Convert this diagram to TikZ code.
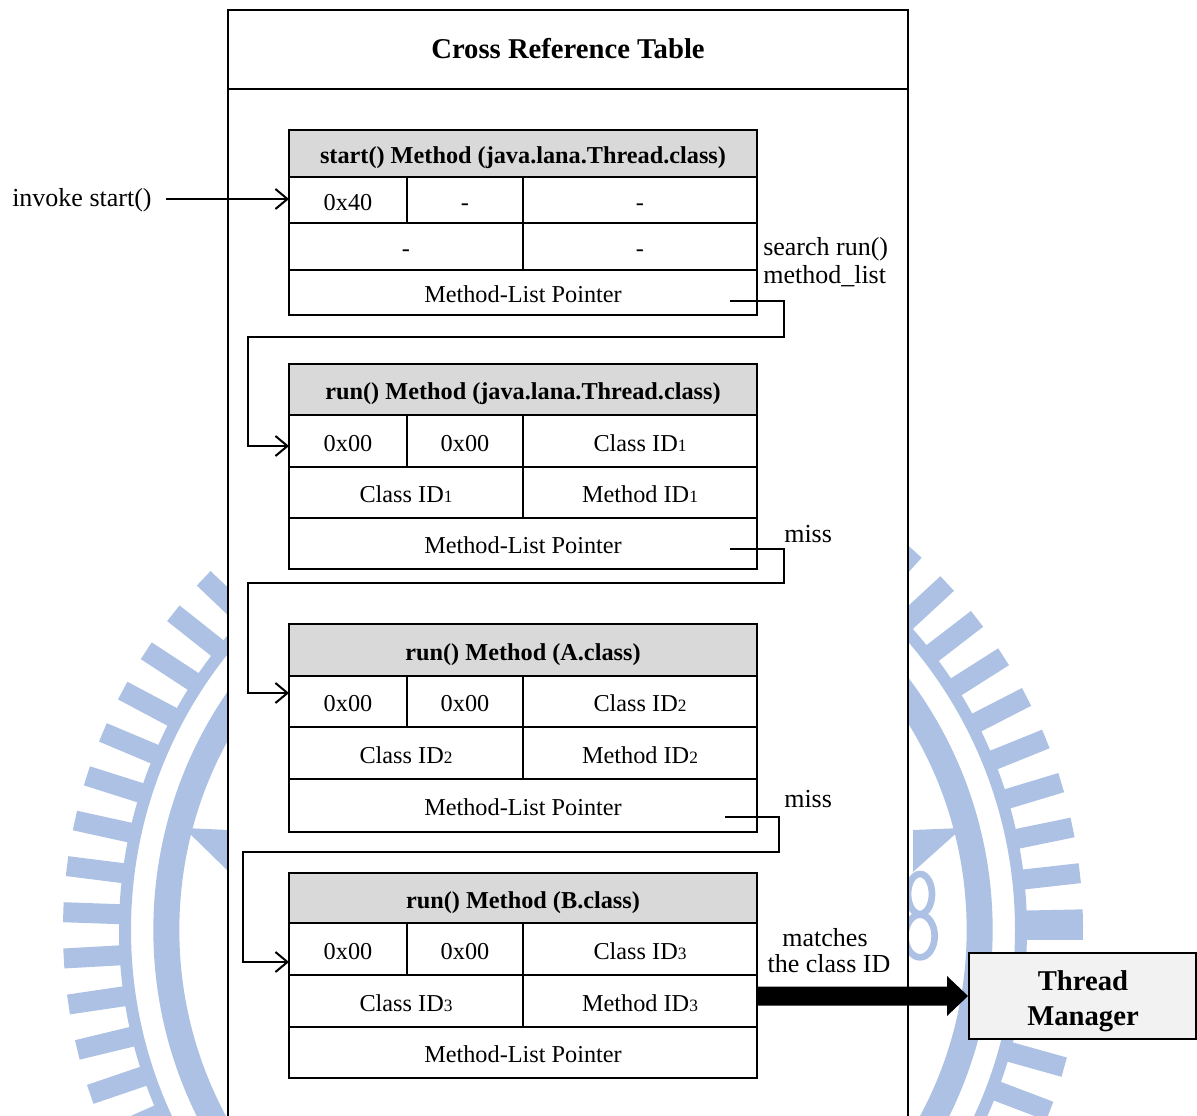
\documentclass[tikz,border=0pt]{standalone}
\usepackage{fontspec}
\setmainfont{Liberation Serif}
\usetikzlibrary{arrows.meta,calc}

\definecolor{hdgray}{RGB}{217,217,217}
\definecolor{tmgray}{RGB}{242,242,242}
\definecolor{logoblue}{RGB}{172,193,228}

\newcommand\tabfont{\fontsize{18.2}{21}\selectfont}
\newcommand\lblfont{\fontsize{19.5}{23}\selectfont}
\newcommand\bigfont{\fontsize{21.5}{26.25}\selectfont}
\newcommand\idx[1]{{\fontsize{13}{13}\selectfont #1}}

\begin{document}
\begin{tikzpicture}[x=0.75pt,y=-0.75pt,
  grid/.style={line width=1.5pt,line join=miter},
  tx/.style={inner sep=0pt,text height=12pt,text depth=0pt,font=\tabfont},
  hd/.style={inner sep=0pt,text height=12pt,text depth=0pt,font=\tabfont\bfseries},
  lbl/.style={inner sep=0pt,font=\lblfont},
  conn/.style={line width=1.5pt,-{Straight Barb[length=9pt,width=15pt]}},
  tmbox/.style={draw,line width=1.5pt,fill=tmgray,inner sep=0pt,
    minimum width=170.25pt,minimum height=64.5pt},
  logo/.style={logoblue}
]
\useasboundingbox (0,0) rectangle (1197,1115);

% ---- faint emblem in the background ----
\coordinate (lc) at (573,930);
\draw[logo,line width=19.5pt] (lc) circle[radius=305pt];
\draw[logo,line width=9pt] (lc) circle[radius=336pt];
\foreach \a in {0,5.2,...,360}
  \draw[logo,line width=15pt] ($(lc)+(\a:445)$) -- ($(lc)+(\a:510)$);
\fill[logo] (913,830) -- (962,828) -- (913,872) -- cycle;
\fill[logo] (229,830) -- (184,828) -- (229,872) -- cycle;
\draw[logo,line width=5pt] (920,894) ellipse[x radius=9pt,y radius=15pt];
\draw[logo,line width=5pt] (920,936) ellipse[x radius=11pt,y radius=16pt];

% ---- outer cross reference table frame ----
\draw[grid,fill=white] (228,1125) -- (228,10) -- (908,10) -- (908,1125);
\draw[grid] (228,89) -- (908,89);
\node[inner sep=0pt,text height=14.2pt,text depth=0pt,font=\bigfont\bfseries] (xrt) at (568,49) {Cross Reference Table};

% ---- start() method entry ----
\fill[hdgray] (289,130) rectangle (757,177);
\draw[grid] (289,130) rectangle (757,315);
\draw[grid] (289,177) -- (757,177) (289,223) -- (757,223) (289,270) -- (757,270)
  (407,177) -- (407,223) (523,177) -- (523,270);
\node[hd] (t1h) at (523,155.5) {start() Method (java.lana.Thread.class)};
\node[tx] (t1a) at (348,202) {0x40};
\node[tx] (t1b) at (465,202) {-};
\node[tx] (t1c) at (640,202) {-};
\node[tx] (t1d) at (406,248.5) {-};
\node[tx] (t1e) at (640,248.5) {-};
\node[tx] (t1p) at (523,294.5) {Method-List Pointer};

% ---- run() method of java.lana.Thread ----
\fill[hdgray] (289,364) rectangle (757,415);
\draw[grid] (289,364) rectangle (757,569);
\draw[grid] (289,415) -- (757,415) (289,467) -- (757,467) (289,518) -- (757,518)
  (407,415) -- (407,467) (523,415) -- (523,518);
\node[hd] (t2h) at (523,391.5) {run() Method (java.lana.Thread.class)};
\node[tx] (t2a) at (348,443) {0x00};
\node[tx] (t2b) at (465,443) {0x00};
\node[tx] (t2c) at (640,443) {Class ID\idx{1}};
\node[tx] (t2d) at (406,494.5) {Class ID\idx{1}};
\node[tx] (t2e) at (640,494.5) {Method ID\idx{1}};
\node[tx] (t2p) at (523,545.5) {Method-List Pointer};

% ---- run() method of A ----
\fill[hdgray] (289,624) rectangle (757,676);
\draw[grid] (289,624) rectangle (757,832);
\draw[grid] (289,676) -- (757,676) (289,727) -- (757,727) (289,779) -- (757,779)
  (407,676) -- (407,727) (523,676) -- (523,779);
\node[hd] (t3h) at (523,652) {run() Method (A.class)};
\node[tx] (t3a) at (348,703.5) {0x00};
\node[tx] (t3b) at (465,703.5) {0x00};
\node[tx] (t3c) at (640,703.5) {Class ID\idx{2}};
\node[tx] (t3d) at (406,755) {Class ID\idx{2}};
\node[tx] (t3e) at (640,755) {Method ID\idx{2}};
\node[tx] (t3p) at (523,807.5) {Method-List Pointer};

% ---- run() method of B ----
\fill[hdgray] (289,873) rectangle (757,923);
\draw[grid] (289,873) rectangle (757,1078);
\draw[grid] (289,923) -- (757,923) (289,975) -- (757,975) (289,1027) -- (757,1027)
  (407,923) -- (407,975) (523,923) -- (523,1027);
\node[hd] (t4h) at (523,900) {run() Method (B.class)};
\node[tx] (t4a) at (348,951) {0x00};
\node[tx] (t4b) at (465,951) {0x00};
\node[tx] (t4c) at (640,951) {Class ID\idx{3}};
\node[tx] (t4d) at (406,1003) {Class ID\idx{3}};
\node[tx] (t4e) at (640,1003) {Method ID\idx{3}};
\node[tx] (t4p) at (523,1054.5) {Method-List Pointer};

% ---- thread manager ----
\node[tmbox] (tm) at (1082.5,996) {};
\node[inner sep=0pt,font=\bigfont\bfseries,align=center,anchor=base] (tmt) at (1083,1025) {Thread\\Manager};

% ---- labels ----
\node[lbl,anchor=base west] (inv) at (12,206) {invoke start()};
\node[lbl,anchor=base west] (srch) at (763,255) {search run()};
\node[lbl,anchor=base west] (mlst) at (763,283) {method\_list};
\node[lbl,anchor=base west] (miss1) at (784,542) {miss};
\node[lbl,anchor=base west] (miss2) at (784,807) {miss};
\node[lbl,anchor=base] (mat1) at (825,946) {matches};
\node[lbl,anchor=base] (mat2) at (829,972) {the class ID};

% ---- connectors ----
\coordinate (i0) at (166,199);
\coordinate (in1) at (289,199);
\draw[conn] (i0) -- (in1);

\coordinate (p1) at (730,301);
\coordinate (c1) at (784,337);
\coordinate (d1) at (248,446);
\coordinate (in2) at (289,446);
\draw[conn] (p1) -| (c1) -| (d1) -- (in2);

\coordinate (p2) at (730,549);
\coordinate (c2) at (784,583);
\coordinate (d2) at (248,693);
\coordinate (in3) at (289,693);
\draw[conn] (p2) -| (c2) -| (d2) -- (in3);

\coordinate (p3) at (725,817);
\coordinate (c3) at (779,852);
\coordinate (d3) at (243,962);
\coordinate (in4) at (289,962);
\draw[conn] (p3) -| (c3) -| (d3) -- (in4);

% ---- thick hand-off arrow to the thread manager ----
\coordinate (out4) at (757,996);
\fill (out4) ++(0,-9.5) -- ($(tm.west)+(-21,-9.5)$) -- ($(tm.west)+(-21,-20)$)
  -- (tm.west) -- ($(tm.west)+(-21,20)$) -- ($(tm.west)+(-21,9.5)$)
  -- ($(out4)+(0,9.5)$) -- cycle;
\end{tikzpicture}
\end{document}
